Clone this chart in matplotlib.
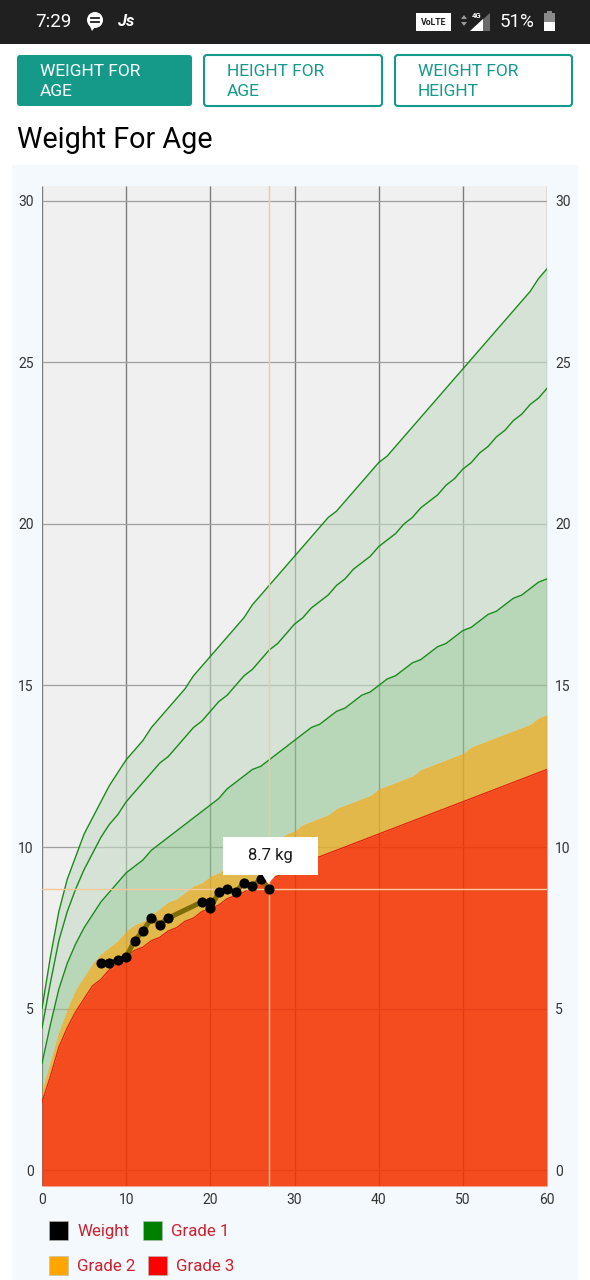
import matplotlib
matplotlib.use('Agg')
import matplotlib.pyplot as plt
from matplotlib.patches import Rectangle, FancyBboxPatch, Polygon, Circle

plt.rcParams['font.family'] = ['Roboto', 'DejaVu Sans']

# ---------------- data ----------------
months = list(range(61))
sd3neg = [2.1, 2.9, 3.8, 4.4, 4.9, 5.3, 5.7, 5.9, 6.2, 6.4, 6.6, 6.8, 6.9, 7.1, 7.2, 7.4,
          7.5, 7.7, 7.8, 8.0, 8.1, 8.2, 8.4, 8.5, 8.6, 8.8, 8.9, 9.0, 9.1, 9.2, 9.4,
          9.5, 9.6, 9.7, 9.8, 9.9, 10.0, 10.1, 10.2, 10.3, 10.4, 10.5, 10.6, 10.7, 10.8,
          10.9, 11.0, 11.1, 11.2, 11.3, 11.4, 11.5, 11.6, 11.7, 11.8, 11.9, 12.0, 12.1,
          12.2, 12.3, 12.4]
sd2neg = [2.5, 3.4, 4.3, 5.0, 5.6, 6.0, 6.4, 6.7, 6.9, 7.1, 7.4, 7.6, 7.7, 7.9, 8.1, 8.3,
          8.4, 8.6, 8.8, 8.9, 9.1, 9.2, 9.4, 9.5, 9.7, 9.8, 10.0, 10.1, 10.2, 10.4, 10.5,
          10.7, 10.8, 10.9, 11.0, 11.2, 11.3, 11.4, 11.5, 11.6, 11.8, 11.9, 12.0, 12.1,
          12.2, 12.4, 12.5, 12.6, 12.7, 12.8, 12.9, 13.1, 13.2, 13.3, 13.4, 13.5, 13.6,
          13.7, 13.8, 14.0, 14.1]
median = [3.3, 4.5, 5.6, 6.4, 7.0, 7.5, 7.9, 8.3, 8.6, 8.9, 9.2, 9.4, 9.6, 9.9, 10.1, 10.3,
          10.5, 10.7, 10.9, 11.1, 11.3, 11.5, 11.8, 12.0, 12.2, 12.4, 12.5, 12.7, 12.9,
          13.1, 13.3, 13.5, 13.7, 13.8, 14.0, 14.2, 14.3, 14.5, 14.7, 14.8, 15.0, 15.2,
          15.3, 15.5, 15.7, 15.8, 16.0, 16.2, 16.3, 16.5, 16.7, 16.8, 17.0, 17.2, 17.3,
          17.5, 17.7, 17.8, 18.0, 18.2, 18.3]
sd2 = [4.4, 5.8, 7.1, 8.0, 8.7, 9.3, 9.8, 10.3, 10.7, 11.0, 11.4, 11.7, 12.0, 12.3, 12.6,
       12.8, 13.1, 13.4, 13.7, 13.9, 14.2, 14.5, 14.7, 15.0, 15.3, 15.5, 15.8, 16.1, 16.3,
       16.6, 16.9, 17.1, 17.4, 17.6, 17.8, 18.1, 18.3, 18.6, 18.8, 19.0, 19.3, 19.5, 19.7,
       20.0, 20.2, 20.5, 20.7, 20.9, 21.2, 21.4, 21.7, 21.9, 22.2, 22.4, 22.7, 22.9, 23.2,
       23.4, 23.7, 23.9, 24.2]
sd3 = [5.0, 6.6, 8.0, 9.0, 9.7, 10.4, 10.9, 11.4, 11.9, 12.3, 12.7, 13.0, 13.3, 13.7, 14.0,
       14.3, 14.6, 14.9, 15.3, 15.6, 15.9, 16.2, 16.5, 16.8, 17.1, 17.5, 17.8, 18.1, 18.4,
       18.7, 19.0, 19.3, 19.6, 19.9, 20.2, 20.4, 20.7, 21.0, 21.3, 21.6, 21.9, 22.1, 22.4,
       22.7, 23.0, 23.3, 23.6, 23.9, 24.2, 24.5, 24.8, 25.1, 25.4, 25.7, 26.0, 26.3, 26.6,
       26.9, 27.2, 27.6, 27.9]

weight_age = [7, 8, 9, 10, 11, 12, 13, 14, 15, 19, 20, 20, 21, 22, 23, 24, 25, 26, 27]
weight_kg = [6.4, 6.4, 6.5, 6.6, 7.1, 7.4, 7.8, 7.6, 7.8, 8.3, 8.3, 8.1, 8.6, 8.7, 8.6,
             8.9, 8.8, 9.0, 8.7]

x_ticks = [0, 10, 20, 30, 40, 50, 60]
y_ticks = [0, 5, 10, 15, 20, 25, 30]
legend_labels = ['Weight', 'Grade 1', 'Grade 2', 'Grade 3']
legend_colors = ['#000000', '#008000', '#ffa500', '#ff0000']
tab_labels = [['WEIGHT FOR', 'AGE'], ['HEIGHT FOR', 'AGE'], ['WEIGHT FOR', 'HEIGHT']]
title_text = 'Weight For Age'
tooltip_text = '8.7 kg'

# ---------------- figure ----------------
W, H = 590, 1280
fig = plt.figure(figsize=(W / 100, H / 100), dpi=100)
fig.patch.set_facecolor('white')

bg = fig.add_axes([0, 0, 1, 1], zorder=0)
bg.set_xlim(0, W); bg.set_ylim(H, 0); bg.axis('off')

# status bar
bg.add_patch(Rectangle((0, 0), W, 44, fc='#202020', ec='none'))
bg.text(35, 22, '7:29', color='white', fontsize=13.5, va='center', ha='left')
bg.add_patch(Circle((95, 20), 8, fc='white', ec='none'))
bg.add_patch(Polygon([(89, 24), (92, 31), (95, 27)], closed=True, fc='white', ec='none'))
bg.plot([91, 99], [18, 18], color='#202020', lw=1.3)
bg.plot([91, 99], [22, 22], color='#202020', lw=1.3)
bg.text(117, 22, 'Js', color='white', fontsize=12, fontweight='bold', style='italic',
        va='center', ha='left')
bg.add_patch(Rectangle((416, 13), 35, 18, fc='white', ec='none'))
bg.text(433.5, 22.5, 'VoLTE', color='#202020', fontsize=6.3, fontweight='bold',
        va='center', ha='center')
bg.add_patch(Polygon([(461, 19), (464, 15), (467, 19)], closed=True, fc='#9a9a9a', ec='none'))
bg.add_patch(Polygon([(461, 22), (464, 26), (467, 22)], closed=True, fc='#9a9a9a', ec='none'))
bg.add_patch(Polygon([(470, 31), (490, 31), (490, 13)], closed=True, fc='#6a6a6a', ec='none'))
bg.add_patch(Polygon([(470, 31), (483, 31), (483, 19.3)], closed=True, fc='white', ec='none'))
bg.text(477, 15, '4G', color='white', fontsize=5.5, fontweight='bold', va='center', ha='center')
bg.text(500, 22, '51%', color='white', fontsize=13.5, va='center', ha='left')
bg.add_patch(Rectangle((546.5, 10.5), 5, 2.5, fc='#8a8a8a', ec='none'))
bg.add_patch(Rectangle((543.5, 12.5), 11, 9, fc='#8a8a8a', ec='none'))
bg.add_patch(Rectangle((543.5, 21.5), 11, 9.5, fc='white', ec='none'))

# tabs
teal = '#159a8a'
tab_x = [(17, 192), (204, 382), (395, 572)]
for i, ((x0, x1), lines) in enumerate(zip(tab_x, tab_labels)):
    if i == 0:
        bg.add_patch(FancyBboxPatch((x0 + 3, 58), x1 - x0 - 6, 45,
                                    boxstyle='round,pad=3', fc=teal, ec='none'))
        tc = 'white'
    else:
        bg.add_patch(FancyBboxPatch((x0 + 3, 58), x1 - x0 - 6, 45,
                                    boxstyle='round,pad=3', fc='white', ec=teal, lw=1.5))
        tc = teal
    bg.text(x0 + 23, 72, lines[0], color=tc, fontsize=12.5, va='center', ha='left')
    bg.text(x0 + 23, 92, lines[1], color=tc, fontsize=12.5, va='center', ha='left')

# title
bg.text(17, 140, title_text, color='black', fontsize=20.7, va='center', ha='left')

# chart panel
bg.add_patch(Rectangle((12, 165), 566, H - 165, fc='#f3f9fd', ec='none'))

# ---------------- chart ----------------
ax = fig.add_axes([42 / W, 1 - 1186 / H, 505 / W, 1000 / H], zorder=1)
ax.set_facecolor('#f0f0f0')
ax.set_xlim(0, 60)
ax.set_ylim(-0.495, 30.464)
for s in ax.spines.values():
    s.set_visible(False)

ax.vlines(x_ticks, -0.495, 30.464, colors='#7c7c7c', lw=1.0, zorder=1)
ax.hlines(y_ticks, 0, 60, colors='#a0a0a0', lw=0.9, zorder=1)

y_bottom = ax.get_ylim()[0]
ax.fill_between(months, y_bottom, sd3neg, color=(245 / 255, 51 / 255, 0), alpha=0.87, lw=0, zorder=2)
ax.fill_between(months, sd3neg, sd2neg, color=(225 / 255, 174 / 255, 45 / 255), alpha=0.85, lw=0, zorder=2)
ax.fill_between(months, sd2neg, median, color=(148 / 255, 197 / 255, 148 / 255), alpha=0.6, lw=0, zorder=2)
ax.fill_between(months, median, sd3, color=(195 / 255, 218 / 255, 195 / 255), alpha=0.6, lw=0, zorder=2)

for curve in (sd3, sd2, median):
    ax.plot(months, curve, color='#1a8a1a', lw=1.0, zorder=3)
ax.plot(months, sd3neg, color='#e8200c', lw=1.0, zorder=3)

# crosshair at last measurement
ax.axvline(weight_age[-1], color='#f5c89c', lw=1.0, zorder=3.5)
ax.axhline(weight_kg[-1], color='#f5c89c', lw=1.0, zorder=3.5)

ax.plot(weight_age, weight_kg, color='#7d6b08', lw=3.6, marker='o', ms=6.3,
        mfc='black', mec='black', zorder=4)

ax.set_xticks(x_ticks)
ax.set_yticks(y_ticks)
ax.tick_params(axis='both', length=0, labelsize=10, labelcolor='#333333')
ax.tick_params(axis='y', left=True, right=True, labelleft=True, labelright=True, pad=6)
ax.tick_params(axis='x', pad=5)

# ---------------- overlay (tooltip + legend) ----------------
top = fig.add_axes([0, 0, 1, 1], zorder=3)
top.set_xlim(0, W); top.set_ylim(H, 0); top.axis('off')
top.patch.set_alpha(0)

px, py = ax.transData.transform((weight_age[-1], weight_kg[-1]))
py = H - py
top.add_patch(Rectangle((px - 46.5, py - 52), 95, 38, fc='white', ec='none'))
top.add_patch(Polygon([(px - 7, py - 14.5), (px + 7, py - 14.5), (px - 1, py - 5)],
                      closed=True, fc='white', ec='none'))
top.text(px + 1, py - 33, tooltip_text, color='#1a1a1a', fontsize=12, va='center', ha='center')

legend_pos = [(49, 1221), (143, 1221), (49, 1256), (148, 1256)]
for (lx, ly), lab, col in zip(legend_pos, legend_labels, legend_colors):
    top.add_patch(Rectangle((lx, ly), 19, 19, fc=col, ec='#bbbbbb', lw=0.4))
    top.text(lx + 28, ly + 10.5, lab, color='#d0202f', fontsize=12.2, va='center', ha='left')

fig.savefig('out.png', dpi=100, facecolor='white')
